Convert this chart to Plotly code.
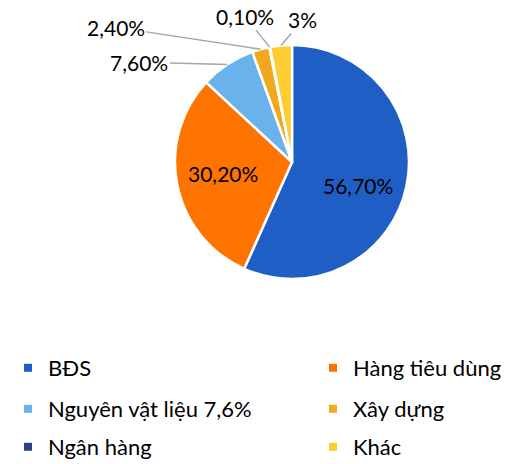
import math
import plotly.graph_objects as go

categories = ["BĐS", "Hàng tiêu dùng", "Nguyên vật liệu 7,6%", "Xây dựng", "Ngân hàng", "Khác"]
values = [56.7, 30.2, 7.6, 2.4, 0.1, 3.0]
value_labels = ["56,70%", "30,20%", "7,60%", "2,40%", "0,10%", "3%"]
colors = ["#1F5FC5", "#FF7400", "#6AB2EC", "#F2A81D", "#2C3E8C", "#FFCC33"]

W, H = 523, 464
FONT = "Lato"
# pie geometry (pixels)
CX, CY, R = 292, 162, 117

inside = [True, True, False, False, False, False]
# inside labels: small nudges (pixels) from 0.6R on the mid-angle
inside_nudge = {0: (-3, 9), 1: (0, -3)}
# outside labels: centre offsets (pixels) relative to the rim point
offsets = {2: (-88, -2), 3: (-145, -22), 4: (-25, -31), 5: (22, -26)}

fig = go.Figure()
fig.add_trace(go.Pie(
    labels=categories,
    values=values,
    textinfo="none",
    sort=False,
    direction="clockwise",
    rotation=0,
    marker=dict(colors=colors, line=dict(color="#FFFFFF", width=2.5)),
    domain=dict(x=[(CX - R) / W, (CX + R) / W], y=[(H - CY - R) / H, (H - CY + R) / H]),
    showlegend=False,
    hoverinfo="label+percent",
))

# data labels, positioned from each slice's mid-angle
total = sum(values)
cum = 0.0
annotations = []
for i, v in enumerate(values):
    mid = (cum + v / 2) / total * 360.0
    cum += v
    a = math.radians(mid)
    if inside[i]:
        dx, dy = inside_nudge[i]
        px = CX + 0.6 * R * math.sin(a) + dx
        py = CY - 0.6 * R * math.cos(a) + dy
        annotations.append(dict(
            x=px / W, y=1 - py / H, xref="paper", yref="paper",
            text=value_labels[i], showarrow=False,
            xanchor="center", yanchor="middle",
            font=dict(family=FONT, size=21, color="#000000"),
        ))
    else:
        px = CX + R * math.sin(a)
        py = CY - R * math.cos(a)
        ax, ay = offsets[i]
        annotations.append(dict(
            x=px / W, y=1 - py / H, xref="paper", yref="paper",
            text=value_labels[i], showarrow=True, arrowhead=0, arrowwidth=1.5,
            arrowcolor="#A6A6A6", ax=ax, ay=ay, standoff=0,
            font=dict(family=FONT, size=21, color="#000000"),
        ))

# legend proxies: one legend per entry, two columns x three rows
row_y = [368, 409, 447]
col_x = [8, 313]
legends = {}
for i, (name, col) in enumerate(zip(categories, colors)):
    row, c = divmod(i, 2)
    key = "legend" if i == 0 else f"legend{i + 1}"
    fig.add_trace(go.Scatter(
        x=[None], y=[None], mode="markers", name=name,
        marker=dict(symbol="square", size=8, color=col),
        legend=key, hoverinfo="skip",
    ))
    legends[key] = dict(
        orientation="h", x=col_x[c] / W, y=1 - row_y[row] / H,
        xanchor="left", yanchor="middle",
        font=dict(family=FONT, size=22, color="#000000"),
        bgcolor="rgba(0,0,0,0)", itemclick=False, itemdoubleclick=False,
    )

fig.update_layout(
    width=W, height=H,
    margin=dict(l=0, r=0, t=0, b=0, autoexpand=False),
    paper_bgcolor="#FFFFFF", plot_bgcolor="#FFFFFF",
    xaxis=dict(visible=False, domain=[0, 0.01]),
    yaxis=dict(visible=False, domain=[0, 0.01]),
    annotations=annotations,
    font=dict(family=FONT),
    **legends,
)

fig.write_html(
    "out.html",
    config={"displayModeBar": False},
    post_script="document.body.style.margin='0';",
)
